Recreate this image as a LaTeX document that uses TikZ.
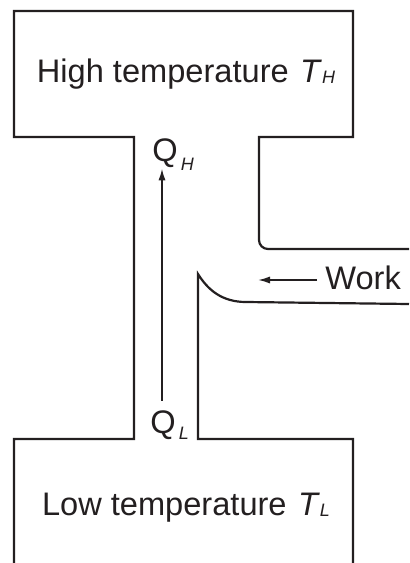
\documentclass[tikz,border=0pt]{standalone}
\usepackage{fontspec}
\setmainfont{Liberation Sans}
\usetikzlibrary{arrows.meta,positioning}
\definecolor{hxink}{RGB}{35,31,32}
\newcommand{\hxsub}[2]{\raisebox{-#1}{\fontsize{9}{9}\selectfont\itshape #2}}
\tikzset{
  wall/.style={line width=1.1pt, draw=hxink, line join=miter},
  flow/.style={-{Latex[length=6pt,width=3.6pt]}, line width=0.9pt, draw=hxink},
  tag/.style={inner sep=0pt, font=\fontsize{16.3}{19}\selectfont, text=hxink}
}
\begin{document}
\begin{tikzpicture}[x=0.5pt,y=-0.5pt]
\useasboundingbox (0,0) rectangle (409,563);
\draw[wall] (14,563) -- (14,439) -- (134,439) -- (134,137) -- (14,137) -- (14,11) -- (353,11) -- (353,137) -- (259,137) -- (259,240) arc(180:90:9) -- (409,249);
\draw[wall] (353,563) -- (353,439) -- (198,439) -- (198,274) .. controls (208,290) and (222,302) .. (246,302) -- (409,304);
\node[tag, anchor=base] (hot) at (186,82) {High temperature\hspace{0.35em}\textit{T}\hxsub{0.5pt}{H}};
\node[tag, anchor=base] (cold) at (186,515) {Low temperature\hspace{0.35em}\textit{T}\hxsub{0.5pt}{L}};
\node[tag, anchor=base west] (qhigh) at (152,161) {Q\hspace{1.5pt}\hxsub{4.5pt}{H}};
\node[tag, anchor=base west] (qlow) at (150,433) {Q\hspace{1.5pt}\hxsub{3pt}{L}};
\node[tag, anchor=west] (work) at (325,278) {Work};
\coordinate (worktip) at (258,280);
\draw[flow] ([xshift=6pt,yshift=4.5pt]qlow.north west) -- ([xshift=5pt,yshift=1pt]qhigh.south west);
\draw[flow] ([xshift=-4pt,yshift=-1pt]work.west) -- (worktip);
\end{tikzpicture}
\end{document}
